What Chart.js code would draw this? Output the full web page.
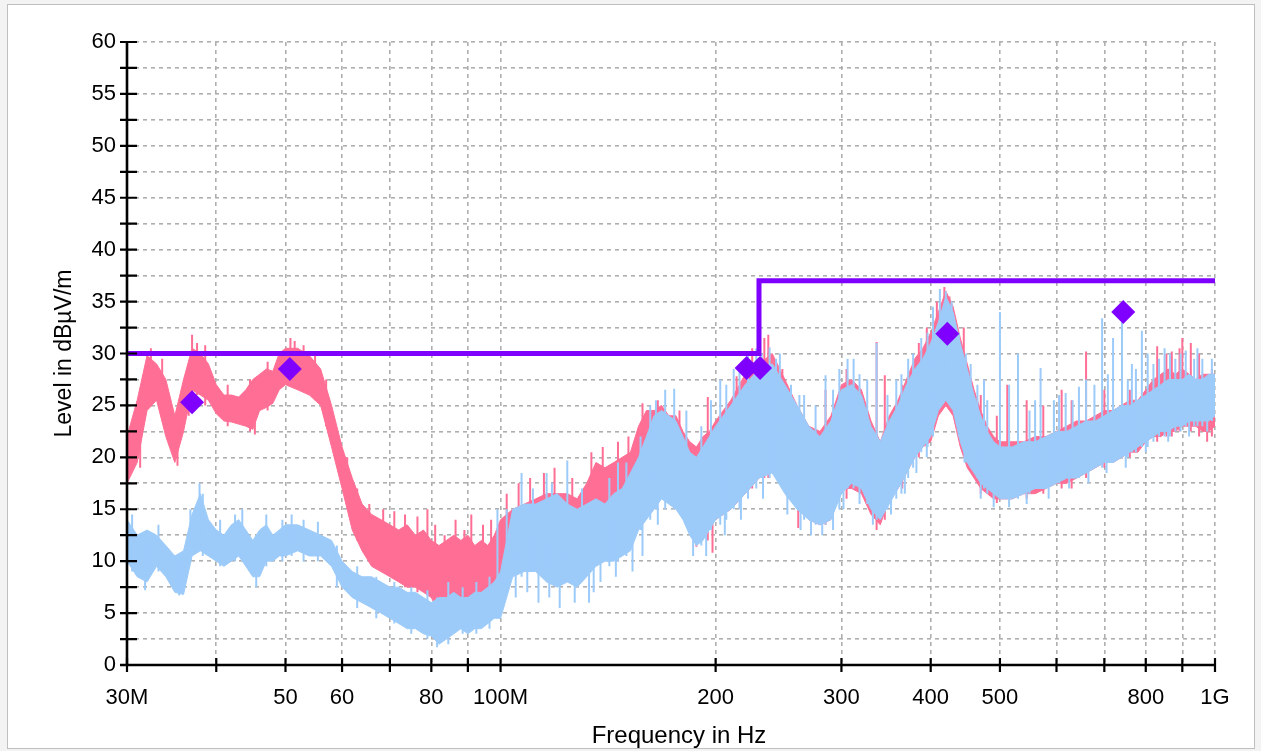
<!DOCTYPE html>
<html><head><meta charset="utf-8">
<script src="https://cdn.jsdelivr.net/npm/chart.js@4.4.1/dist/chart.umd.min.js"></script>
<style>html,body{margin:0;padding:0;background:#fff;}canvas{display:block;}</style>
</head><body>
<canvas id="c" width="1261" height="751"></canvas>
<script>
// Frequency sweep points (MHz)
const FREQ = [30,31,32,33,34,35,36,37,38,39,40,41,42,43,44,45,46,47,48,49,50,
52,54,56,58,60,62,64,66,68,70,72,74,76,78,80,82,84,86,88,90,92,94,96,98,100,
104,108,112,116,120,124,128,132,136,140,144,148,152,156,160,164,168,172,176,180,184,188,192,196,200,
210,220,230,240,250,260,270,280,290,300,310,320,330,340,350,360,370,380,390,400,410,420,430,440,450,460,470,480,490,500,
520,540,560,580,600,620,640,660,680,700,720,740,760,780,800,820,840,860,880,900,920,940,960,980,1000];

// Pink trace: upper / lower envelope (dBµV/m)
const PINK_HI = [22,25.5,29.8,29,27.5,24,27.5,30.5,30,29,27,26,26,25.8,26.5,27.5,28,28.5,28.3,30,30.5,
30.5,29.8,28.5,25,21,18,15.5,14.5,14,13.5,13,13.5,12.5,13,12,11.5,12,12.5,12,12.5,11.5,12,11.5,12.5,14,
15,15.5,16,16.5,16.5,16.5,16,17.5,19.5,19,19.5,20,20.5,23,24.5,24.5,25,24,24,22.5,21.5,21,22,22.5,23.5,
25.5,28,29,30,27.5,25,23,22.5,24,27,27.5,26.5,23.5,21.5,24,25.5,27.5,29.5,30.5,32,34,36,34.5,31.5,29,26.5,24.5,23,22,21.5,
21.5,21.5,22,22,22.5,23,23.5,23.5,24,24.5,24.5,25,25.5,25.5,26.5,27.5,28,28.5,28,28.5,28,27.5,28,28,28];
const PINK_LO = [17.5,19.5,24.5,25.5,22,19.5,22.5,26.5,26,25.5,24.2,23.5,23.4,23.2,23,22.7,24.5,24.8,25.2,26.5,27,
26.5,26,25,21,17,13,11,9.5,9,8.5,8,7.5,7.5,7,6.5,5,5.5,6,6.5,6,6.5,6,6,7,8,
9,10,10,10.5,11,11,11.5,12,13,13,13.5,14,14.5,16,17,17,17.5,17,16.5,15,13,12,12.5,13.5,14,
15,16.5,18,19,17.5,15.5,14,13.5,14,17,17,16.5,14.5,13.5,16,17,18.5,20,21,21.5,24,25,24,21,19,18,17,16.5,16,16,
16,16.5,16.5,17,17.5,17.5,18,18.5,19,19.5,19.5,20,20.5,20.5,21.5,22,22,22.5,22.5,23,23,23,22.5,22.5,23];

// Blue trace: upper / lower envelope (dBµV/m)
const BLUE_HI = [14,12.5,13,12.5,11.5,10.5,11,14.5,16.5,14,13,12.5,13.5,14,13,12,13,13.5,12.5,13,13.5,
13.5,13,12.5,12,10,9,8.5,8.5,8,7.5,7.5,7,7,6.5,6,6.5,6.5,7,6.5,6.5,7,7,7.5,8,9,
15,15.5,15.5,16,16.5,15.5,15,15.5,16,15.5,16.5,17,18.5,20,22,24,24.5,24,23.5,22,20.5,20,21,22,23,
25,27,28.5,29,27,25,23,22,23.5,26.5,27,26,23,21.5,23.5,25,27,28.5,29.5,31,33,35.5,34,31,28.5,26,24,22.5,21.5,21,
21,21.5,21.5,22,22.5,22.5,23,23.5,23.5,24,24.5,25,25,25.5,26,26.5,27,27.5,27.5,27.5,28,27.5,27.5,28,28];
const BLUE_LO = [10,8.5,8,9.5,8.5,7,6.8,10.5,11,10.5,10,9.5,10,10.5,9.5,8.5,8.5,10,10,10.5,10.5,
11,10.5,10.5,9.5,7.5,6.5,6,5.5,5,4.5,4,3.5,3.5,3,2.8,2,2.5,3,3.5,3,3.5,3.5,4,4.5,4.5,
8.5,9,9,8,7.5,8,7.5,8.5,9.5,10,10,10.5,11,13,14,15,16,15.5,15,14,12.5,11.5,12,13,14,
15,16.5,18,18.5,16.5,15,14,13.5,14,16.5,17.5,17,15,14,15.5,17,18.5,20,21,22,24.5,25.5,24.5,21.5,19.5,18.5,17.5,17,16.5,16,
16,16.5,17,17,17.5,18,18,18.5,19,19.5,19.5,20,20.5,21,21.5,22,22.5,22.5,23,23,23.5,23.5,23.5,23.5,24];

// Narrow spikes: [MHz, from dB, to dB]
const PINK_SPIKES = [[31.3,19,26.5],[32.4,25,30.5],[33.6,24,29.5],[35.3,19.2,23],[36.6,24,29],[37.0,26,31.8],[37.6,26,31],[38.6,25,30.8],
[41.5,23,27],[44.6,22.5,27.5],[45.3,22.2,26],[47.2,24.5,29.2],[50.8,27,31.5],[51.5,27,31.2],[53,26.5,30.8],[55,25.5,30],[57,23,27.5],
[61,15.5,20],[63,12,17],[65.5,10,15.5],[68.5,9,15],[71,8.5,14.8],[73.5,7.5,14.5],[76.5,7,14.3],[79,7,15],[81,5,13.5],[83.5,4.8,12.5],
[86.5,6,14],[89,6,13],[91,6,14.5],[94.5,6,13.5],[97,6.5,14],[102,8,16.5],[106,9,17.5],[110,10,18],[115,10,18.5],[119,11,19],[126,11,18],
[134,12,20.5],[139,13,21],[146,14,21.5],[151,14,22],[158,16,25.2],[166,17,25.5],[178,15,24.5],[188,11.4,20],[195,12,25.8],[198,10.8,22],
[214,16,27.8],[225,17,30.5],[234,18,31.5],[237,18,31.8],[248,17,28.5],[261,13.2,24],[285,13.5,26.5],[305,16,28.5],[336,13,31.1],[345,14,27.9],
[365,17,27],[385,20,31],[395,21,32.5],[408,25,35],[418,27,36.4],[425,26,35.5],[445,21,32.5],[470,16.5,26],[495,15.6,24],[512,16,27],
[545,16,25.5],[575,16.5,25],[610,17,26.5],[630,17,25.5],[660,18,30.2],[700,19,26.5],[760,20,26.5],[830,21.5,30.7],[855,22,30],[870,22,30.2],
[892,22.5,30.5],[900,23,31.5],[925,22.5,31],[950,22,30],[975,21.5,27.5],[990,22,28.5]];
const BLUE_SPIKES = [[30.5,9,14.5],[31.8,7.2,12],[33.2,9,13.5],[35.5,6.7,10.5],[36.8,10,15],[37.9,11,17.5],[38.3,10.5,16.5],[40.5,9.5,14],
[42.5,10,14.5],[43.5,10,15],[45.5,7.5,12],[47,9.5,14.5],[49.5,10,14],[51,10.5,14.5],[53,10,14],[55.5,10,13.8],[59,7.5,11.5],[63,5.5,9.5],
[67,4.5,8.5],[71,4,8],[75,3,7.5],[79,2.5,7.2],[81.5,1.7,6.5],[84.5,2,8],[88.5,3,7.5],[92.5,3,8],[96.5,3.5,8.5],[99,4.5,15],
[102,7,15],[105,6.5,12],[107,8.5,18.5],[109,7,12],[111,9,17],[113,6,12],[116,9,18.5],[117,6.5,12],[118,8.5,17.5],[121,5.5,12],[124,8,19.7],
[127,6,12],[130,8,17],[133,6,12],[135,7,13],[138,8,13],[142,9.5,18],[145,8.5,14],[146,10,19.5],[150,10.5,19.5],[153,9,15],[157,13,22],
[158,10.5,16],[162,14,25],[165,15,25.5],[166,13.5,19],[170,15,26.5],[175,15,26.6],[182,14,24.5],[186,10.5,16],[191,11.5,23],[194,10.5,16],
[197,13,25.5],[203,13.5,27.5],[206,12.5,18],[207,14,27],[212,15,28.5],[216,15,28.5],[217,14,20],[222,16,30],[228,17,30.5],[232,18,30],
[233,16,22],[238,18,30.6],[243,18,29.5],[246,17.5,30],[252,14.5,20],[255,16,27],[262,15,26],[263,13,18],[266,14,26],[272,12.5,18],
[276,13.5,25],[282,12.5,18],[285,13.5,27.9],[292,13,26.5],[298,15,28.5],[302,15,20],[306,17,29.5],[312,17,29.5],[318,15.5,28],
[326,15.5,27.5],[332,13.5,19],[336,14,31],[348,15,26],[352,14.5,19],[358,16,27.5],[364,16.5,28],[368,16.5,22],[372,18,29.5],[378,19,30],
[382,18.5,24],[388,20.5,31.5],[395,20,25],[396,21,32],[403,22,34.5],[412,26,36.2],[420,27,36],[428,25,35],[438,22,32],[446,19.5,25],
[448,19.5,30],[455,19,29],[465,18,27],[470,16,21],[475,17,27.5],[480,16.5,25.5],[490,15.2,20],[500,16,34],[515,15.2,27],[530,16,30],
[545,15.5,20],[550,16.5,24.5],[560,17,25.5],[570,17,28.6],[585,16,20.5],[595,17.5,25.5],[605,17.5,26],[618,18,26.2],[625,17,21],
[632,18,25.5],[645,18,26.8],[660,18.5,27.5],[665,17.5,22],[678,19,27],[695,19,33.4],[705,18.5,22.5],[708,19.5,28],[720,19.5,31.5],
[741,20,33],[750,19,23],[755,20,27.5],[765,20.5,29],[775,20.5,28.5],[790,21,32.2],[800,20.5,24],[805,21,30],[820,21.5,29],[835,22,29.5],
[850,22,30.5],[860,21.5,25],[865,22,30],[880,22.5,29.5],[895,22.5,30],[910,23,30.3],[920,22,26],[935,23,29.5],[945,23,30.5],[960,23,29.5],
[975,22.5,26],[990,23.5,29.5]];

// Limit line and final measurement markers
const LIMIT_F = [30,230,230,1000];
const LIMIT_L = [30,30,37,37];
const MARK_F = [37,50.7,221,230.8,422,744];
const MARK_L = [25.3,28.5,28.6,28.6,31.9,34.0];

// Axis ticks and labels
const X_TICKS = [30,40,50,60,70,80,90,100,200,300,400,500,600,700,800,900,1000];
const X_LABELS = ['30M','','50','60','','80','','100M','200','300','400','500','','','800','','1G'];
const Y_TICKS = [0,2.5,5,7.5,10,12.5,15,17.5,20,22.5,25,27.5,30,32.5,35,37.5,40,42.5,45,47.5,50,52.5,55,57.5,60];
const Y_LABELS = ['0','','5','','10','','15','','20','','25','','30','','35','','40','','45','','50','','55','','60'];

const PINK = '#ff6f95';
const BLUE = '#9ccbfa';
const PURPLE = '#7f00ff';
const FONT = "'Liberation Sans', Arial, sans-serif";

const pts = (f, v) => f.map((x, i) => ({x: x, y: v[i]}));
const spikePts = s => s.flatMap(([f, lo, hi]) => [{x: f, y: lo}, {x: f, y: hi}, {x: f, y: null}]);

const framePlugin = {
  id: 'frame',
  beforeDraw(chart) {
    const ctx = chart.ctx;
    ctx.save();
    ctx.fillStyle = '#f3f3f3';
    ctx.fillRect(0, 0, chart.width, chart.height);
    ctx.fillStyle = '#ffffff';
    ctx.fillRect(7, 4, 1248, 745);
    ctx.strokeStyle = '#bfbfbf';
    ctx.lineWidth = 1;
    ctx.strokeRect(7.5, 4.5, 1247, 744);
    ctx.restore();
  },
  afterDraw(chart) {
    const ctx = chart.ctx;
    const {left, right, top, bottom} = chart.chartArea;
    const xs = chart.scales.x, ys = chart.scales.y;
    ctx.save();
    ctx.strokeStyle = '#000';
    ctx.lineWidth = 2.6;
    ctx.beginPath();
    ctx.moveTo(left, top); ctx.lineTo(left, bottom);
    ctx.moveTo(left - 7, bottom); ctx.lineTo(right, bottom);
    ctx.stroke();
    ctx.lineWidth = 2.2;
    ctx.beginPath();
    ys.ticks.forEach(t => { const p = ys.getPixelForValue(t.value); ctx.moveTo(left - 7, p); ctx.lineTo(left + 10, p); });
    xs.ticks.forEach(t => { const p = xs.getPixelForValue(t.value); ctx.moveTo(p, bottom - 7); ctx.lineTo(p, bottom + 7); });
    ctx.stroke();
    ctx.fillStyle = '#000';
    ctx.font = '24px ' + FONT;
    ctx.textAlign = 'center';
    ctx.textBaseline = 'middle';
    ctx.fillText('Frequency in Hz', 679, 736);
    ctx.restore();
  }
};

const gridOpts = {color: '#afafaf', lineWidth: 1.6, drawTicks: false};

new Chart(document.getElementById('c'), {
  type: 'line',
  data: {
    datasets: [
      {data: pts(FREQ, PINK_HI), borderColor: PINK, backgroundColor: PINK, borderWidth: 1, fill: '+1', pointRadius: 0, order: 10},
      {data: pts(FREQ, PINK_LO), borderColor: PINK, borderWidth: 1, fill: false, pointRadius: 0, order: 10},
      {data: spikePts(PINK_SPIKES), borderColor: PINK, borderWidth: 2, fill: false, pointRadius: 0, spanGaps: false, order: 8},
      {data: pts(FREQ, BLUE_HI), borderColor: BLUE, backgroundColor: BLUE, borderWidth: 1, fill: '+1', pointRadius: 0, order: 6},
      {data: pts(FREQ, BLUE_LO), borderColor: BLUE, borderWidth: 1, fill: false, pointRadius: 0, order: 6},
      {data: spikePts(BLUE_SPIKES), borderColor: BLUE, borderWidth: 2, fill: false, pointRadius: 0, spanGaps: false, order: 4},
      {data: pts(LIMIT_F, LIMIT_L), borderColor: PURPLE, borderWidth: 5, fill: false, pointRadius: 0, order: 2},
      {data: pts(MARK_F, MARK_L), showLine: false, pointStyle: 'rectRot', pointRadius: 12, pointBackgroundColor: PURPLE, pointBorderColor: PURPLE, pointBorderWidth: 0, order: 1}
    ]
  },
  options: {
    responsive: false,
    animation: false,
    devicePixelRatio: 1,
    layout: {padding: {left: 0, right: 46, top: 42, bottom: 0}},
    plugins: {legend: {display: false}, tooltip: {enabled: false}},
    scales: {
      x: {
        type: 'logarithmic', min: 30, max: 1000,
        afterBuildTicks: s => { s.ticks = X_TICKS.map(v => ({value: v})); },
        afterFit: s => { s.height = 86; s.paddingLeft = 0; s.paddingRight = 0; },
        grid: gridOpts,
        border: {display: false, dash: [4, 4]},
        ticks: {autoSkip: false, maxRotation: 0, minRotation: 0, padding: 20, color: '#000',
          font: {family: FONT, size: 22}, callback: (v, i) => X_LABELS[i]}
      },
      y: {
        type: 'linear', min: 0, max: 60,
        afterBuildTicks: s => { s.ticks = Y_TICKS.map(v => ({value: v})); },
        afterFit: s => { s.width = 127; s.paddingTop = 0; s.paddingBottom = 0; },
        grid: gridOpts,
        border: {display: false, dash: [4, 4]},
        ticks: {autoSkip: false, padding: 11, color: '#000', font: {family: FONT, size: 22},
          callback: (v, i) => Y_LABELS[i]},
        title: {display: true, text: 'Level in dBµV/m', color: '#000', font: {family: FONT, size: 23}, padding: {top: 51, bottom: 0}}
      }
    }
  },
  plugins: [framePlugin]
});
</script>
</body></html>
